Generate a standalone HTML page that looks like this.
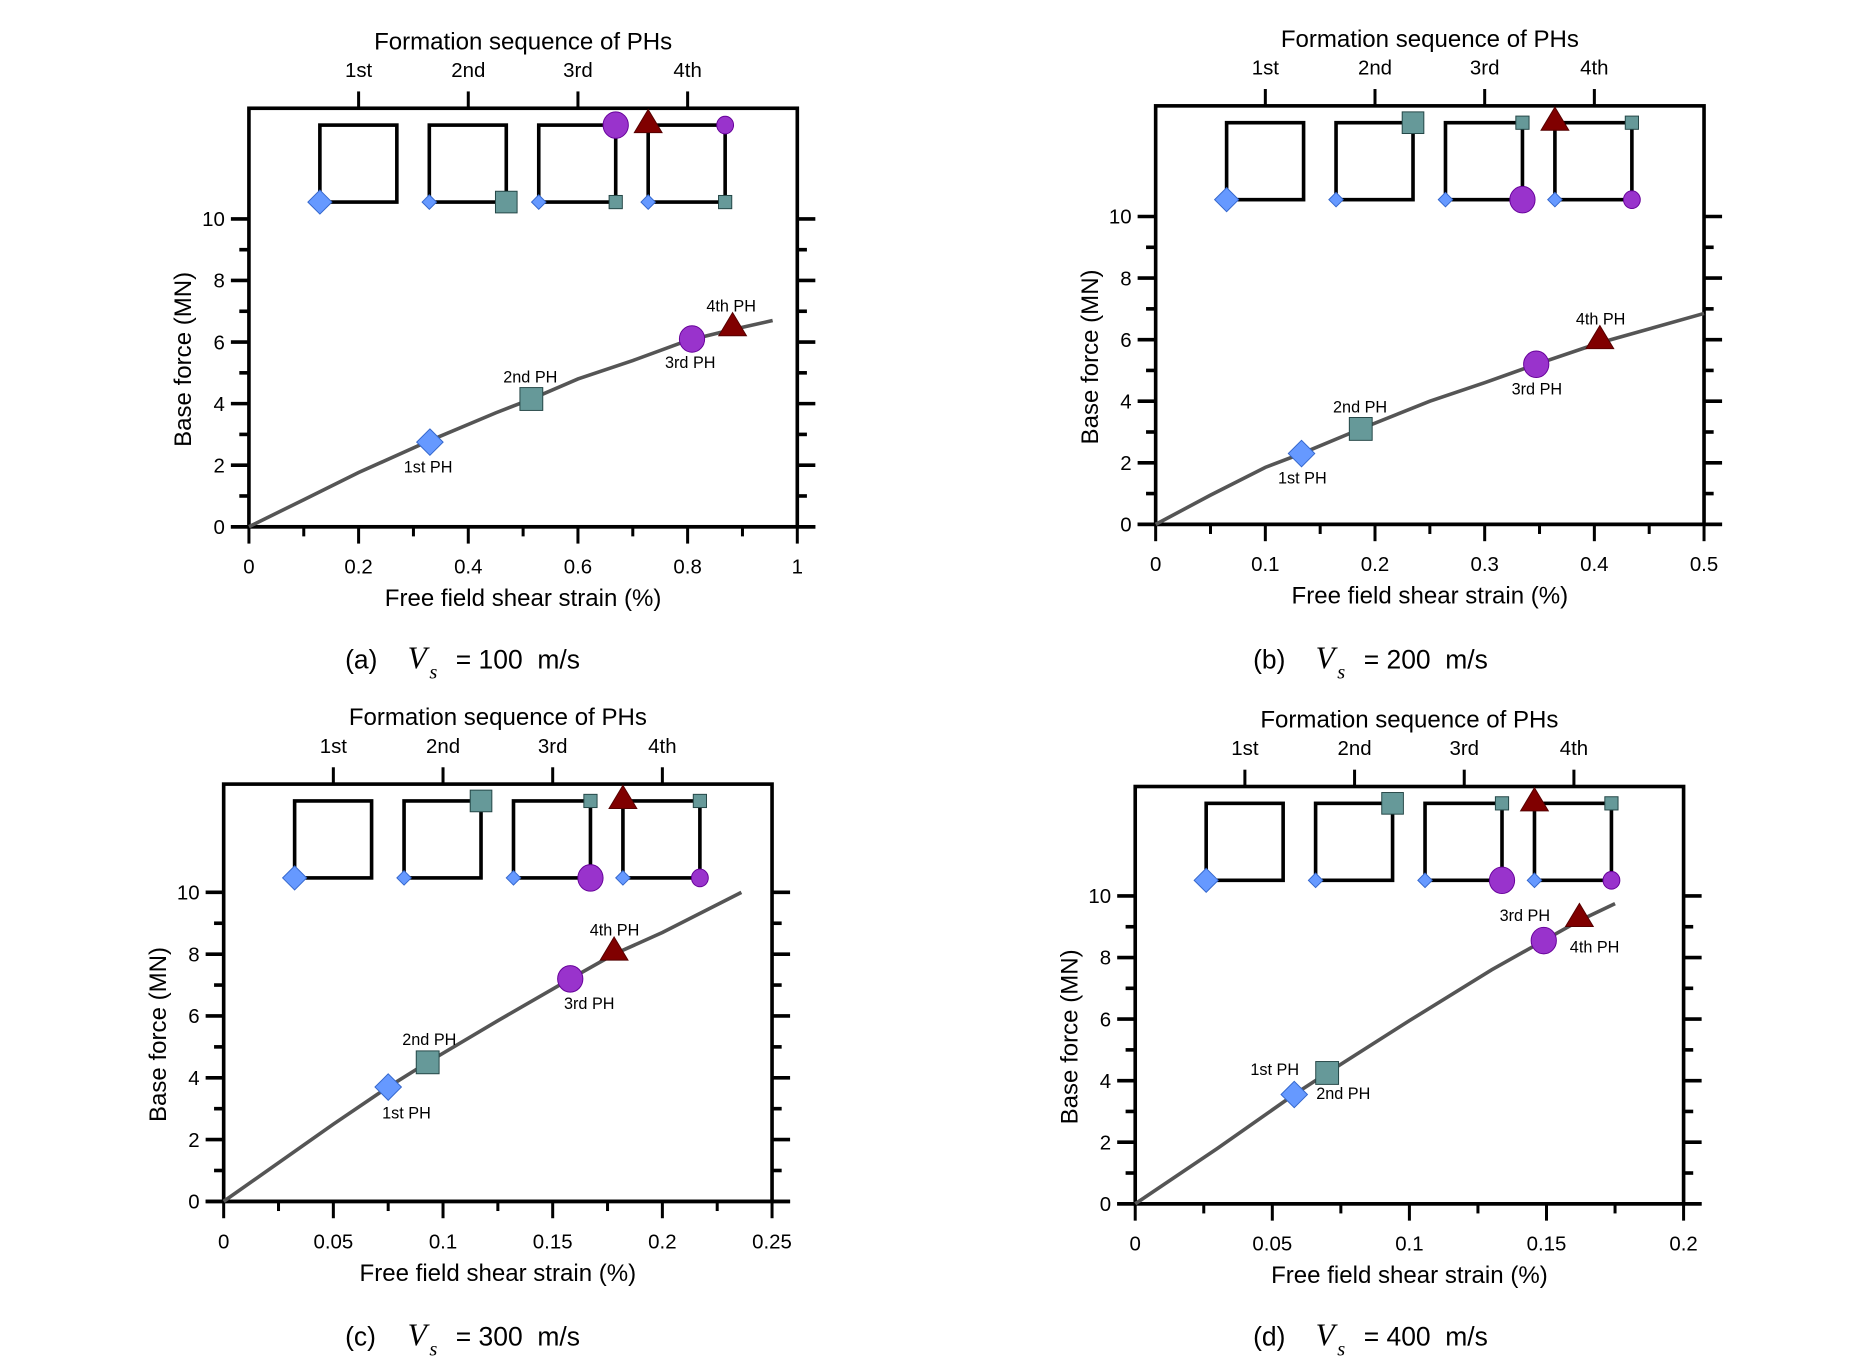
<!DOCTYPE html>
<html><head><meta charset="utf-8"><style>
html,body{margin:0;padding:0;background:#fff;}
svg{display:block;}
text{font-family:"Liberation Sans",sans-serif;fill:#000;}
</style></head><body>
<svg id="s" width="1876" height="1371" viewBox="0 0 1560 1140" xmlns="http://www.w3.org/2000/svg"></svg>
<script>
var s=document.getElementById('s');var h='';
var BL='#6699ff',TE='#669999',PU='#9933cc',RD='#800000';
function dia(x,y,r){return '<polygon points="'+x+','+(y-r)+' '+(x+r)+','+y+' '+x+','+(y+r)+' '+(x-r)+','+y+'" fill="'+BL+'" stroke="#3366cc" stroke-width="0.8"/>';}
function sq(x,y,r){return '<rect x="'+(x-r)+'" y="'+(y-r)+'" width="'+2*r+'" height="'+2*r+'" fill="'+TE+'" stroke="#224444" stroke-width="0.8"/>';}
function ci(x,y,r){return '<ellipse cx="'+x+'" cy="'+y+'" rx="'+r+'" ry="'+r*1.05+'" fill="'+PU+'" stroke="#660099" stroke-width="0.8"/>';}
function tri(x,y,r){return '<polygon points="'+x+','+(y-r)+' '+(x+r*1.05)+','+(y+r*0.75)+' '+(x-r*1.05)+','+(y+r*0.75)+'" fill="'+RD+'" stroke="#550000" stroke-width="0.8"/>';}
function txt(x,y,t,sz,anc,extra){return '<text x="'+x+'" y="'+y+'" font-size="'+sz+'" text-anchor="'+(anc||'middle')+'" '+(extra||'')+'>'+t+'</text>';}
function panel(P){
 var L=P.L,R=P.L+456,T=P.T,B=P.B,y10=P.y10,u=(B-y10)/10,xm=P.xmax;
 function X(v){return L+v/xm*456;} function Y(v){return B-v*u;}
 var o='';
 o+='<rect x="'+L+'" y="'+T+'" width="456" height="'+(B-T)+'" fill="none" stroke="#000" stroke-width="3"/>';
 o+='<line x1="'+(L-15)+'" y1="'+B+'" x2="'+(R+15)+'" y2="'+B+'" stroke="#000" stroke-width="3"/>';
 for(var i=0;i<=10;i++){var y=Y(i),l=i%2?8:15;
  o+='<line x1="'+(L-l)+'" y1="'+y+'" x2="'+L+'" y2="'+y+'" stroke="#000" stroke-width="3"/>';
  o+='<line x1="'+R+'" y1="'+y+'" x2="'+(R+l)+'" y2="'+y+'" stroke="#000" stroke-width="3"/>';
  if(i%2==0)o+=txt(L-20,y+6,i,17,'end');}
 var nI=P.xl.length-1,nS=nI*2,st=456/nS;
 for(var j=0;j<=nS;j++){var x=L+j*st,l=j%2?8:14;
  o+='<line x1="'+x+'" y1="'+B+'" x2="'+x+'" y2="'+(B+l)+'" stroke="#000" stroke-width="2.5"/>';
  if(j%2==0)o+=txt(x,B+39,P.xl[j/2],17);}
 var ord=['1st','2nd','3rd','4th'];
 for(var k=0;k<4;k++){var x=L+(k+1)*91.2;o+='<line x1="'+x+'" y1="'+(T-14)+'" x2="'+x+'" y2="'+T+'" stroke="#000" stroke-width="2.5"/>';o+=txt(x,T-26,ord[k],17);}
 o+=txt(L+228,T-49,'Formation sequence of PHs',20);
 o+=txt(L+228,B+66,'Free field shear strain (%)',20);
 o+=txt(0,0,'Base force (MN)',20,'middle','transform="translate('+(L-48)+','+(T+(B-T)*0.6)+') rotate(-90)"');
 var ft=T+14,fb=T+78;
 for(var k=0;k<4;k++){var fx=L+59+k*91;o+='<rect x="'+fx+'" y="'+ft+'" width="64" height="64" fill="none" stroke="#000" stroke-width="3"/>';}
 var f=function(k){return L+59+k*91;};
 if(P.a){
  o+=dia(f(0),fb,10);
  o+=dia(f(1),fb,6)+sq(f(1)+64,fb,9);
  o+=dia(f(2),fb,6)+sq(f(2)+64,fb,5.5)+ci(f(2)+64,ft,10.5);
  o+=dia(f(3),fb,6)+sq(f(3)+64,fb,5.5)+ci(f(3)+64,ft,7)+tri(f(3),ft-2,11);
 }else{
  o+=dia(f(0),fb,10);
  o+=dia(f(1),fb,6)+sq(f(1)+64,ft,9);
  o+=dia(f(2),fb,6)+sq(f(2)+64,ft,5.5)+ci(f(2)+64,fb,10.5);
  o+=dia(f(3),fb,6)+sq(f(3)+64,ft,5.5)+ci(f(3)+64,fb,7)+tri(f(3),ft-2,11);
 }
 var pts=P.c.map(function(p){return X(p[0]).toFixed(1)+','+Y(p[1]).toFixed(1);}).join(' ');
 o+='<polyline points="'+pts+'" fill="none" stroke="#555" stroke-width="3"/>';
 var m=P.m;
 o+=dia(X(m[0][0]),Y(m[0][1]),11)+sq(X(m[1][0]),Y(m[1][1]),9.5)+ci(X(m[2][0]),Y(m[2][1]),10.5)+tri(X(m[3][0]),Y(m[3][1])-2,11);
 var lb=['1st PH','2nd PH','3rd PH','4th PH'];
 for(var k=0;k<4;k++)o+=txt(P.lab[k][0],P.lab[k][1],lb[k],13.5);
 var cx=P.cap[0],cy=P.cap[1];
 o+='<text x="'+cx+'" y="'+cy+'" font-size="22">('+P.n+')</text>';
 o+='<text x="'+(cx+52)+'" y="'+cy+'" font-size="26" font-style="italic" style="font-family:\'Liberation Serif\',serif">V</text>';
 o+='<text x="'+(cx+70)+'" y="'+(cy+8)+'" font-size="17" font-style="italic" style="font-family:\'Liberation Serif\',serif">s</text>';
 o+='<text x="'+(cx+92)+'" y="'+cy+'" font-size="22">= '+P.v+'&#160; m/s</text>';
 return o;
}
h+=panel({L:207,T:90,B:438,y10:182,xmax:1,xl:['0','0.2','0.4','0.6','0.8','1'],a:1,
 c:[[0,0],[0.1,0.88],[0.2,1.76],[0.33,2.8],[0.45,3.7],[0.515,4.15],[0.6,4.8],[0.7,5.4],[0.8,6.05],[0.88,6.4],[0.955,6.7]],
 m:[[0.33,2.75],[0.515,4.15],[0.808,6.1],[0.882,6.45]],
 lab:[[356,393],[441,318],[574,306],[608,259]],cap:[287,556],n:'a',v:'100'});
h+=panel({L:961,T:88,B:436,y10:180,xmax:0.5,xl:['0','0.1','0.2','0.3','0.4','0.5'],
 c:[[0,0],[0.05,0.95],[0.1,1.85],[0.133,2.3],[0.187,3.1],[0.25,4.0],[0.3,4.6],[0.347,5.2],[0.405,5.9],[0.5,6.85]],
 m:[[0.133,2.3],[0.187,3.1],[0.347,5.2],[0.405,5.95]],
 lab:[[1083,402],[1131,343],[1278,328],[1331,270]],cap:[1042,556],n:'b',v:'200'});
h+=panel({L:186,T:652,B:999,y10:742,xmax:0.25,xl:['0','0.05','0.1','0.15','0.2','0.25'],
 c:[[0,0],[0.05,2.5],[0.075,3.7],[0.093,4.5],[0.125,5.85],[0.158,7.2],[0.178,8.0],[0.2,8.7],[0.236,10.0]],
 m:[[0.075,3.7],[0.093,4.5],[0.158,7.2],[0.178,8.05]],
 lab:[[338,930],[357,869],[490,839],[511,778]],cap:[287,1119],n:'c',v:'300'});
h+=panel({L:944,T:654,B:1001,y10:745,xmax:0.2,xl:['0','0.05','0.1','0.15','0.2'],
 c:[[0,0],[0.03,1.8],[0.058,3.55],[0.07,4.25],[0.1,5.95],[0.13,7.6],[0.149,8.55],[0.162,9.2],[0.175,9.75]],
 m:[[0.058,3.55],[0.07,4.25],[0.149,8.55],[0.162,9.25]],
 lab:[[1060,894],[1117,914],[1268,766],[1326,792]],cap:[1042,1119],n:'d',v:'400'});
s.innerHTML=h;
</script>
</body></html>
